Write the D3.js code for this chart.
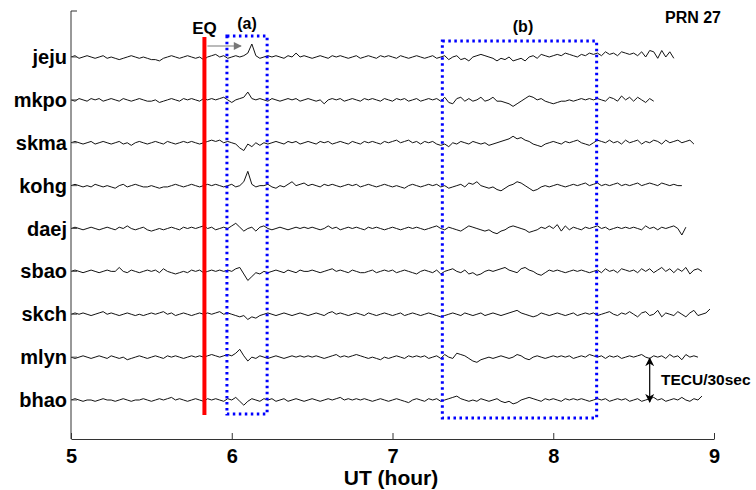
<!DOCTYPE html>
<html>
<head>
<meta charset="utf-8">
<script src="https://cdn.jsdelivr.net/npm/d3@7"></script>
<style>
  body { margin: 0; background: #fff; }
  svg { display: block; font-family: "Liberation Sans", Arial, sans-serif; font-weight: bold; }
</style>
</head>
<body>
<svg width="756" height="490"></svg>
<script>
'use strict'

// stations, top to bottom
var stations = ["jeju", "mkpo", "skma", "kohg", "daej", "sbao", "skch", "mlyn", "bhao"];

// dTEC samples every 0.025 h starting at 5.0 UT (relative units, up = positive)
var jeju = [0,1,-1,0,1,0,-1,0,1,-1, 0,-1,-2,-1,0,1,0,-1,0,-1, -2,-2,-3,-1,0,1,0,-1,0,1,
  0,-1,0,-2,0,1,2,0,1,-1, 0,1,0,1,3,10,1,-1,0,1, 0,1,0,-1,1,0,3,0,1,0,
  -1,0,1,0,-1,1,0,1,0,-1, 0,1,-1,0,1,0,-1,1,0,1, 0,-1,1,0,-1,0,1,0,-1,0,
  1,-1,0,1,-2,0,1,-2,-1,-3, 0,1,2,1,0,-1,-3,-1,-2,0, -3,-2,-1,-3,0,1,-1,2,1,0,
  1,2,1,3,2,1,0,2,1,3, 2,3,1,4,2,3,1,4,3,2, 3,1,4,0,5,4,-1,5,0,4,-1];
var mkpo = [0,-1,1,0,-1,1,0,1,-1,0, 1,0,-1,1,0,-1,0,1,0,-1, -1,0,-2,-1,0,1,0,-1,1,0,
  1,0,-1,1,0,1,0,1,2,0, -2,0,1,2,6,1,0,1,0,-1, 1,0,-1,0,1,0,1,-1,0,1,
  0,-1,0,-3,0,1,0,1,-1,0, 1,0,-1,1,0,1,0,-1,1,0, -1,1,0,1,-1,0,1,-1,0,1,
  0,1,-1,2,-2,-3,1,2,-1,1, -1,0,2,-1,0,2,-1,-1,-2,-3, -5,-3,-1,1,3,2,0,1,-1,-2,
  -3,-2,-1,-1,0,-1,0,1,0,1, 0,1,0,-1,2,1,-1,3,0,2, -1,2,0,-2,1,-1];
var skma = [0,1,0,-1,0,1,-1,0,1,0, -1,0,1,-1,0,-2,0,1,0,-1, 0,1,0,-1,1,0,-1,0,1,0,
  1,0,-1,0,1,2,1,2,0,1, 0,-1,-4,-6,-1,-3,0,-2,0,-1, 0,1,0,-1,1,0,1,-1,0,1,
  0,-1,1,0,1,-1,0,1,0,-1, 1,0,-1,1,0,1,0,-1,1,0, 1,2,0,1,2,0,1,-1,1,0,
  1,-1,-2,-1,-3,0,-1,1,0,-1, 1,0,-1,0,-2,-1,0,1,2,3, 5,3,4,2,1,-1,-2,-3,-1,0,
  1,0,-1,1,0,1,2,0,-1,-2, 0,2,1,0,2,0,1,-1,2,0, 1,2,-1,1,0,2,1,-1,2,0, 1,2,0,1,2,-1];
var kohg = [0,1,0,-1,0,-1,1,0,-1,0, -1,-2,0,1,-1,0,1,0,-1,-1, 0,-1,-2,-1,-1,0,1,0,-1,0,
  1,0,-1,0,1,0,1,0,-1,0, 1,-1,0,3,11,1,-1,0,0,1, -1,-2,0,-1,1,3,0,1,2,0,
  1,0,-1,1,0,1,0,-1,0,1, 0,1,-1,0,1,0,-1,0,1,0, -1,0,-1,-2,0,1,0,-1,0,1,
  0,1,-1,0,-2,-1,0,1,-1,2, 1,3,0,-1,-2,-1,-3,-4,-2,0, 1,3,2,0,-2,-4,-3,-1,0,-1,
  0,1,0,-1,0,1,0,1,2,0, 1,2,0,1,0,1,2,0,1,0, 1,2,0,1,2,1,0,2,1,0, 1,0,0];
var daej = [0,1,0,-1,0,1,0,-1,0,1, 0,-1,1,0,2,0,-1,0,1,-1, -2,-1,0,-1,0,1,0,-1,1,0,
  1,0,1,2,0,1,-1,0,1,0, 2,4,1,-2,0,1,-2,1,2,0, -1,0,1,0,-1,0,1,0,1,0,
  1,0,-1,0,2,0,1,-1,0,1, 0,1,0,-1,1,0,1,0,-1,0, 1,0,-1,0,1,0,1,0,-1,0,
  1,2,0,-1,1,0,-1,-2,0,2, 1,0,-1,-2,-1,-3,-4,-2,-1,1, 2,1,0,-1,-3,-2,-1,1,0,2,
  0,3,-2,2,-1,1,0,-1,1,0, 1,2,0,1,-1,0,1,0,1,0, 1,0,-1,2,0,1,-1,1,0,1, 2,0,-5,1];
var sbao = [0,1,0,-1,0,1,0,-1,0,1, 0,0,3,0,-1,1,0,-1,0,1, 0,1,-1,2,0,-1,-2,-1,0,-1,
  1,0,1,-1,0,1,0,1,0,1, 0,2,3,-2,-7,-4,-1,-2,0,-1, 0,1,0,-1,1,0,-1,1,0,0,
  1,0,-1,0,1,2,0,1,0,-1, 1,0,-1,-1,0,1,-1,0,1,0, 1,-1,0,1,0,-1,-2,0,1,0,
  -1,1,-2,0,1,2,0,-1,1,-2, -1,-3,-2,0,1,0,1,2,3,1, 0,-1,2,3,1,0,-2,-3,-1,1,
  0,1,0,-1,0,1,0,1,0,-1, 0,1,-1,2,0,1,-1,2,1,0, 1,-1,2,0,2,-1,1,3,0,2, -1,2,0,3,-2,1,2,0];
var skch = [0,1,0,1,0,-1,0,1,2,0, 1,0,-1,0,1,0,-1,0,-1,0, 1,0,1,2,0,1,-1,0,1,0,
  -1,0,1,0,1,0,1,2,0,1, 0,-1,-2,-1,-4,-2,-3,-1,0,1, 0,-1,0,1,0,-1,0,1,0,-1,
  0,1,0,-1,1,2,0,1,0,-1, 0,1,0,-1,1,0,-1,0,1,0, -1,0,1,-1,0,1,0,-1,0,1,
  0,-1,-2,-1,0,1,0,-1,1,0, -1,0,1,-1,0,1,0,-1,0,1, 2,3,1,0,-1,-2,-1,1,0,-1,
  0,1,0,-1,0,1,-1,0,1,0, 1,-1,0,1,2,0,-1,1,0,2, 0,-2,1,2,-1,0,3,-2,1,0, -1,2,0,-2,1,3,-1,0,1,4];
var mlyn = [0,-1,0,1,0,-1,0,1,0,-1, 1,0,-1,0,-2,-1,0,1,0,-1, 0,1,0,-1,1,0,1,0,-1,0,
  1,0,1,0,1,2,1,0,1,2, 1,3,6,1,-3,0,-1,1,0,-1, 0,1,0,-1,0,1,0,1,0,1,
  0,1,0,-1,0,1,2,0,1,0, 1,2,1,0,-1,0,-1,-2,0,-1, 0,1,0,-1,1,0,1,0,1,-1,
  0,1,-1,2,0,-1,3,2,1,-1, -3,-4,-2,-1,0,-1,0,1,0,-1, 0,2,1,-1,-2,0,1,0,-1,0,
  1,0,1,0,1,-1,0,1,0,2, 1,0,1,-1,1,0,1,-1,0,1, 0,1,2,0,-1,1,0,1,-1,2, 0,1,-2,2,0,1,0];
var bhao = [0,1,0,-1,0,0,-1,0,1,0, 0,-1,0,1,0,-1,0,0,1,0, -1,0,1,0,1,2,0,1,0,-1,
  0,1,0,-1,1,0,1,0,-1,1, 0,2,-1,-4,-1,1,0,-1,1,0, 1,-1,0,1,-1,0,1,0,-1,0,
  1,0,-1,0,1,0,1,2,0,1, 0,1,0,1,0,-1,0,1,0,-1, 0,1,0,-1,-2,0,1,0,-1,1,
  0,1,-1,0,1,2,3,1,0,-1, 0,-1,1,0,-1,0,1,-1,-2,-1, -3,-2,0,1,2,1,0,-1,1,0,
  1,0,-1,1,0,1,0,1,0,-1, 0,1,0,1,-1,0,1,0,1,-1, 0,1,-1,0,1,2,0,1,-1,0, 1,0,2,0,-1,1,0,3];

var series = [jeju, mkpo, skma, kohg, daej, sbao, skch, mlyn, bhao];
var startTime = 5, stepTime = 0.025;

var xTicks = [5, 6, 7, 8, 9];
var eqTime = 5.83;
var windowA = [5.97, 6.22];
var windowB = [7.31, 8.27];
var scaleBarTime = 8.6;

var svg = d3.select("svg");

var x = d3.scaleLinear().domain([5, 9]).range([71, 714]);
var yStation = d3.scalePoint().domain(stations).range([57, 400]);
// one relative unit ~ 1.3 px; the TECU/30sec bar spans ~34 units
var amp = d3.scaleLinear().domain([-10, 10]).range([13, -13]);

// traces
var line = d3.line()
  .x(function(d, i) { return x(startTime + i * stepTime); })
  .y(function(d) { return amp(d); });

svg.append("g").selectAll("path")
  .data(series)
  .enter()
  .append("path")
  .attr("transform", function(d, i) { return "translate(0," + yStation(stations[i]) + ")"; })
  .attr("d", line)
  .attr("fill", "none")
  .attr("stroke", "#111")
  .attr("stroke-width", 1);

// left axis
svg.append("line")
  .attr("x1", 71).attr("x2", 71).attr("y1", 11).attr("y2", 439)
  .attr("stroke", "#333").attr("stroke-width", 1);
svg.append("line")
  .attr("x1", 71).attr("x2", 77).attr("y1", 11).attr("y2", 11)
  .attr("stroke", "#333");

var labels = svg.append("g").selectAll("g")
  .data(stations)
  .enter()
  .append("g")
  .attr("transform", function(d) { return "translate(0," + yStation(d) + ")"; });
labels.append("line")
  .attr("x1", 72).attr("x2", 77)
  .attr("stroke", "#555");
labels.append("text")
  .attr("x", 67)
  .attr("dy", "0.35em")
  .attr("text-anchor", "end")
  .attr("font-size", 20)
  .text(function(d) { return d; });

// bottom axis
var xAxis = d3.axisBottom(x).tickValues(xTicks).tickFormat(d3.format("d"))
  .tickSizeInner(-6).tickSizeOuter(0).tickPadding(10);
var gx = svg.append("g")
  .attr("transform", "translate(0,439)")
  .call(xAxis);
gx.select(".domain").attr("stroke", "#333");
gx.selectAll(".tick line").attr("stroke", "#333");
gx.selectAll(".tick text")
  .attr("font-size", 20)
  .attr("font-family", "Liberation Sans, Arial, sans-serif")
  .attr("font-weight", "bold")
  .attr("fill", "#000");

svg.append("text")
  .attr("x", 391).attr("y", 485)
  .attr("text-anchor", "middle")
  .attr("font-size", 21)
  .text("UT (hour)");

// earthquake line
svg.append("line")
  .attr("x1", x(eqTime)).attr("x2", x(eqTime))
  .attr("y1", 37).attr("y2", 415)
  .attr("stroke", "#f00").attr("stroke-width", 4);
svg.append("text")
  .attr("x", x(eqTime)).attr("y", 34)
  .attr("text-anchor", "middle")
  .attr("font-size", 17)
  .text("EQ");

// gray arrow
svg.append("defs").append("marker")
  .attr("id", "grayhead")
  .attr("viewBox", "0 0 10 10")
  .attr("refX", 9).attr("refY", 5)
  .attr("markerWidth", 10).attr("markerHeight", 8)
  .attr("markerUnits", "userSpaceOnUse")
  .attr("orient", "auto")
  .append("path").attr("d", "M0,0L10,5L0,10Z").attr("fill", "#777");
svg.append("line")
  .attr("x1", x(eqTime) + 3).attr("x2", 241)
  .attr("y1", 46).attr("y2", 46)
  .attr("stroke", "#777").attr("stroke-width", 1.2)
  .attr("marker-end", "url(#grayhead)");

// dotted windows
svg.append("rect")
  .attr("x", x(windowA[0])).attr("y", 36)
  .attr("width", x(windowA[1]) - x(windowA[0])).attr("height", 378)
  .attr("fill", "none").attr("stroke", "#00f").attr("stroke-width", 3)
  .attr("stroke-dasharray", "2.5,3.5");
svg.append("rect")
  .attr("x", x(windowB[0])).attr("y", 41)
  .attr("width", x(windowB[1]) - x(windowB[0])).attr("height", 377)
  .attr("fill", "none").attr("stroke", "#00f").attr("stroke-width", 3)
  .attr("stroke-dasharray", "2.5,3.5");
svg.append("text")
  .attr("x", 247).attr("y", 29)
  .attr("text-anchor", "middle").attr("font-size", 16)
  .text("(a)");
svg.append("text")
  .attr("x", 523).attr("y", 32)
  .attr("text-anchor", "middle").attr("font-size", 16)
  .text("(b)");

svg.append("text")
  .attr("x", 693).attr("y", 23)
  .attr("text-anchor", "middle").attr("font-size", 16)
  .text("PRN 27");

// TECU/30sec scale bar
var defs = svg.select("defs");
defs.append("marker")
  .attr("id", "blackhead")
  .attr("viewBox", "0 0 10 10")
  .attr("refX", 9).attr("refY", 5)
  .attr("markerWidth", 9).attr("markerHeight", 11)
  .attr("markerUnits", "userSpaceOnUse")
  .attr("orient", "auto-start-reverse")
  .append("path").attr("d", "M0,0L10,5L0,10L3,5Z").attr("fill", "#000");
svg.append("line")
  .attr("x1", x(scaleBarTime)).attr("x2", x(scaleBarTime))
  .attr("y1", yStation("mlyn") + 1).attr("y2", yStation("bhao") + 2)
  .attr("stroke", "#000").attr("stroke-width", 1.2)
  .attr("marker-start", "url(#blackhead)")
  .attr("marker-end", "url(#blackhead)");
svg.append("text")
  .attr("x", 661).attr("y", 385)
  .attr("font-size", 15.5)
  .text("TECU/30sec");
</script>
</body>
</html>
